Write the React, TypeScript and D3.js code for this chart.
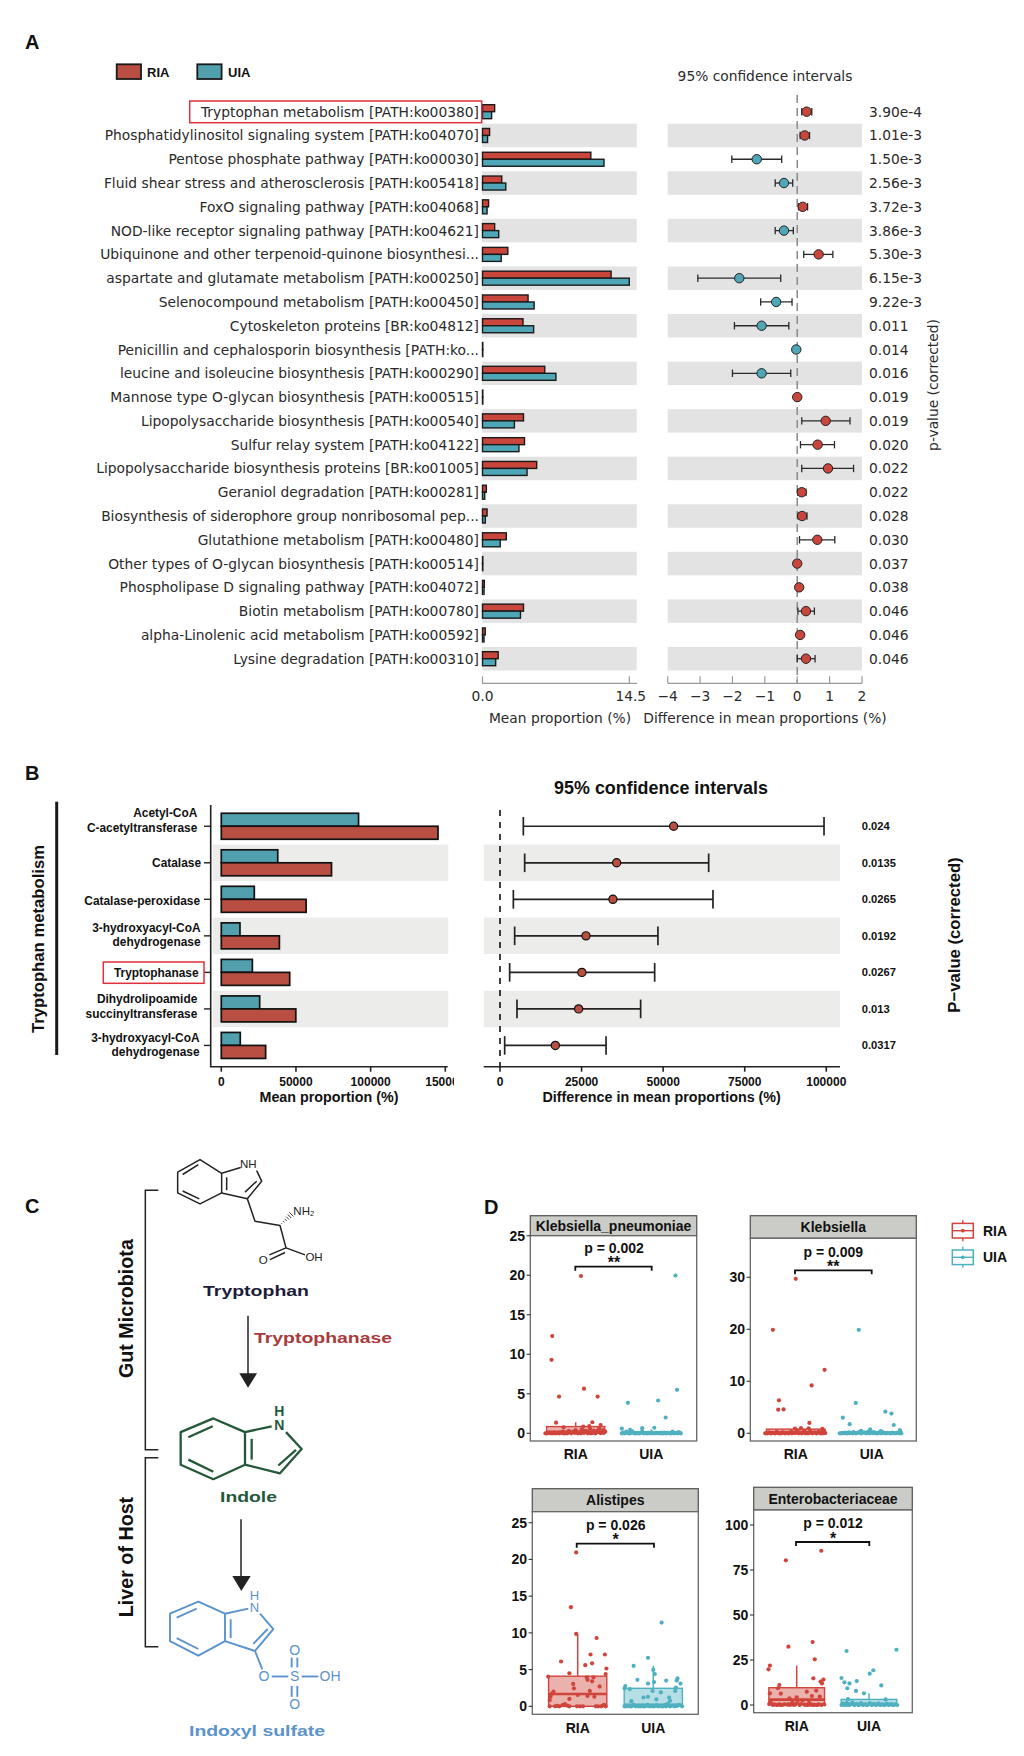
import React from "react";
import * as d3 from "d3";

// Panel A
const pathways = [
  "Tryptophan metabolism [PATH:ko00380]",
  "Phosphatidylinositol signaling system [PATH:ko04070]",
  "Pentose phosphate pathway [PATH:ko00030]",
  "Fluid shear stress and atherosclerosis [PATH:ko05418]",
  "FoxO signaling pathway [PATH:ko04068]",
  "NOD-like receptor signaling pathway [PATH:ko04621]",
  "Ubiquinone and other terpenoid-quinone biosynthesi...",
  "aspartate and glutamate metabolism [PATH:ko00250]",
  "Selenocompound metabolism [PATH:ko00450]",
  "Cytoskeleton proteins [BR:ko04812]",
  "Penicillin and cephalosporin biosynthesis [PATH:ko...",
  "leucine and isoleucine biosynthesis [PATH:ko00290]",
  "Mannose type O-glycan biosynthesis [PATH:ko00515]",
  "Lipopolysaccharide biosynthesis [PATH:ko00540]",
  "Sulfur relay system [PATH:ko04122]",
  "Lipopolysaccharide biosynthesis proteins [BR:ko01005]",
  "Geraniol degradation [PATH:ko00281]",
  "Biosynthesis of siderophore group nonribosomal pep...",
  "Glutathione metabolism [PATH:ko00480]",
  "Other types of O-glycan biosynthesis [PATH:ko00514]",
  "Phospholipase D signaling pathway [PATH:ko04072]",
  "Biotin metabolism [PATH:ko00780]",
  "alpha-Linolenic acid metabolism [PATH:ko00592]",
  "Lysine degradation [PATH:ko00310]",
];
const meanRia = [1.2, 0.7, 10.7, 1.9, 0.6, 1.2, 2.5, 12.7, 4.5, 4.0, 0.03, 6.15, 0.03, 4.05, 4.15, 5.35, 0.38, 0.45, 2.35, 0.03, 0.18, 4.05, 0.27, 1.55];
const meanUia = [0.9, 0.5, 12.0, 2.3, 0.45, 1.6, 1.85, 14.5, 5.1, 5.05, 0.03, 7.25, 0.03, 3.15, 3.6, 4.4, 0.22, 0.28, 1.75, 0.03, 0.15, 3.75, 0.15, 1.3];
const diffMean = [0.29, 0.23, -1.25, -0.41, 0.17, -0.41, 0.66, -1.79, -0.65, -1.1, -0.03, -1.1, 0.0, 0.88, 0.63, 0.95, 0.14, 0.15, 0.62, 0.0, 0.06, 0.27, 0.09, 0.27];
const diffLow = [0.14, 0.09, -2.02, -0.68, 0.04, -0.68, 0.2, -3.07, -1.13, -1.94, -0.06, -2.0, -0.02, 0.14, 0.1, 0.14, 0.02, 0.03, 0.07, -0.02, 0.0, 0.02, 0.03, 0.0];
const diffHigh = [0.45, 0.38, -0.48, -0.14, 0.32, -0.12, 1.1, -0.51, -0.16, -0.26, 0.0, -0.2, 0.02, 1.63, 1.15, 1.74, 0.27, 0.3, 1.16, 0.02, 0.1, 0.53, 0.14, 0.55];
const pathwayP = ["3.90e-4", "1.01e-3", "1.50e-3", "2.56e-3", "3.72e-3", "3.86e-3", "5.30e-3", "6.15e-3", "9.22e-3", "0.011", "0.014", "0.016", "0.019", "0.019", "0.020", "0.022", "0.022", "0.028", "0.030", "0.037", "0.038", "0.046", "0.046", "0.046"];
const diffTicksA = [-4, -3, -2, -1, 0, 1, 2];

// Panel B
const enzymes = [
  ["Acetyl-CoA", "C-acetyltransferase"],
  ["Catalase"],
  ["Catalase-peroxidase"],
  ["3-hydroxyacyl-CoA", "dehydrogenase"],
  ["Tryptophanase"],
  ["Dihydrolipoamide", "succinyltransferase"],
  ["3-hydroxyacyl-CoA", "dehydrogenase"],
];
const enzymeUia = [91900, 37800, 22100, 12500, 20800, 25700, 12700];
const enzymeRia = [145100, 73800, 56800, 38900, 45800, 49900, 29700];
const enzymeDiff = [53200, 35750, 34600, 26350, 25100, 24100, 16960];
const enzymeLow = [7150, 7560, 4090, 4490, 2960, 5200, 1430];
const enzymeHigh = [99300, 63950, 65270, 48400, 47400, 43100, 32500];
const enzymeP = ["0.024", "0.0135", "0.0265", "0.0192", "0.0267", "0.013", "0.0317"];
const meanTicksB = [0, 50000, 100000, 150000];
const diffTicksB = [0, 25000, 50000, 75000, 100000];

// Panel D: [position on the group axis (RIA = 0, UIA = 1), abundance]
type Pt = [number, number];
const kpRia: Pt[] = [
  [0.07, 19.9], [-0.31, 12.3], [-0.32, 9.3], [0.11, 5.65], [-0.22, 4.65], [0.29, 4.65], [-0.26, 1.35], [0.22, 1.4], [0.33, 1.05], [0.1, 0.85], [0.18, 0.9], [-0.16, 0.75],
  [-0.4, 0], [-0.38, 0], [-0.35, 0.05], [-0.33, 0], [-0.3, 0], [-0.28, 0.1], [-0.25, 0.02], [-0.22, 0], [-0.19, 0.05], [-0.17, 0.2], [-0.14, 0], [-0.12, 0.1], [-0.09, 0.3], [-0.06, 0], [-0.03, 0.2], [0, 0.4], [0.03, 0], [0.05, 0.1], [0.08, 0.5], [0.11, 0.05], [0.13, 0.3], [0.16, 0], [0.19, 0.55], [0.21, 0.1], [0.24, 0.35], [0.26, 0], [0.29, 0.3], [0.31, 0.6], [0.34, 0.15], [0.36, 0.4], [0.38, 0.25], [0.39, 0.2],
  [-0.37, 0.03], [-0.32, 0.06], [-0.27, 0], [-0.21, 0.08], [-0.16, 0], [-0.11, 0], [-0.07, 0.12], [-0.01, 0.05], [0.02, 0.15], [0.07, 0], [0.1, 0.2], [0.15, 0.25], [0.2, 0], [0.23, 0.05], [0.28, 0.1], [0.33, 0.02], [0.37, 0.05],
];
const kpUia: Pt[] = [
  [1.32, 19.95], [1.34, 5.5], [0.69, 3.85], [1.09, 4.15], [1.19, 2.0], [0.61, 0.6], [0.88, 0.65], [1.04, 0.7], [0.72, 0.45],
  [0.61, 0], [0.63, 0.1], [0.65, 0], [0.67, 0.2], [0.7, 0], [0.73, 0.05], [0.75, 0.25], [0.78, 0], [0.81, 0.05], [0.83, 0], [0.86, 0.1], [0.88, 0.25], [0.9, 0], [0.93, 0], [0.96, 0.05], [0.98, 0], [1.01, 0.1], [1.03, 0], [1.06, 0], [1.08, 0.05], [1.11, 0], [1.14, 0], [1.17, 0.1], [1.2, 0], [1.22, 0.05], [1.25, 0], [1.28, 0.2], [1.31, 0], [1.33, 0.05], [1.36, 0.15], [1.39, 0],
  [0.62, 0.02], [0.66, 0.05], [0.69, 0.1], [0.72, 0], [0.77, 0.03], [0.8, 0], [0.85, 0], [0.92, 0.05], [0.95, 0], [1.0, 0.02], [1.05, 0.05], [1.1, 0.03], [1.13, 0.08], [1.16, 0], [1.19, 0.02], [1.24, 0.03], [1.27, 0], [1.3, 0.05], [1.35, 0], [1.38, 0.05],
];
const kRia: Pt[] = [
  [0, 29.7], [-0.3, 19.9], [0.38, 12.2], [0.21, 9.2], [-0.22, 6.35], [-0.23, 4.55], [-0.16, 4.6], [0.18, 2.0], [-0.01, 0.9], [0.07, 1.0], [0.17, 0.95], [0.35, 0.85],
  [-0.4, 0], [-0.38, 0.05], [-0.35, 0.2], [-0.33, 0], [-0.3, 0.1], [-0.27, 0], [-0.25, 0.3], [-0.22, 0], [-0.2, 0.05], [-0.17, 0.2], [-0.14, 0], [-0.11, 0.1], [-0.09, 0], [-0.06, 0.35], [-0.03, 0.1], [0.02, 0.5], [0.05, 0.2], [0.08, 0], [0.11, 0.45], [0.14, 0.15], [0.16, 0], [0.19, 0.4], [0.22, 0], [0.25, 0.2], [0.27, 0], [0.3, 0.35], [0.33, 0], [0.35, 0.3], [0.37, 0.5], [0.39, 0.05],
  [-0.37, 0], [-0.32, 0.05], [-0.28, 0.02], [-0.24, 0.1], [-0.19, 0], [-0.15, 0.05], [-0.1, 0.02], [-0.05, 0], [0, 0.05], [0.04, 0], [0.09, 0.1], [0.13, 0], [0.18, 0.05], [0.23, 0.1], [0.28, 0.03], [0.32, 0.1], [0.36, 0],
];
const kUia: Pt[] = [
  [0.83, 19.9], [0.79, 5.85], [0.62, 3.0], [0.71, 1.75], [1.18, 4.15], [1.26, 3.8], [1.29, 1.6], [1.37, 0.6], [0.98, 0.75], [0.86, 0.45], [1.12, 0.4],
  [0.58, 0], [0.6, 0], [0.63, 0.05], [0.65, 0.15], [0.68, 0], [0.7, 0.2], [0.73, 0.05], [0.76, 0.25], [0.79, 0], [0.82, 0.1], [0.84, 0.3], [0.87, 0.05], [0.9, 0.2], [0.93, 0], [0.95, 0.3], [1.0, 0.1], [1.03, 0.25], [1.06, 0], [1.09, 0.15], [1.12, 0], [1.15, 0.2], [1.18, 0], [1.21, 0.1], [1.24, 0], [1.27, 0.15], [1.3, 0], [1.33, 0.1], [1.36, 0], [1.38, 0.3], [1.39, 0],
  [0.61, 0.03], [0.66, 0], [0.71, 0.02], [0.75, 0], [0.8, 0.05], [0.86, 0], [0.92, 0.05], [0.97, 0], [1.02, 0.03], [1.08, 0], [1.14, 0.05], [1.2, 0.02], [1.26, 0], [1.32, 0.02], [1.37, 0.05],
];
const alRia: Pt[] = [
  [-0.02, 20.95], [-0.09, 13.5], [-0.02, 9.85], [0.25, 9.3], [0.36, 7.05], [0.17, 7.05], [-0.22, 6.1], [0.19, 5.85], [0.1, 5.6], [0.38, 5.15], [-0.11, 4.5], [0.37, 4.4], [-0.39, 4.05], [0.12, 3.95], [0.21, 3.95], [0.13, 3.6], [0.19, 3.4], [-0.06, 3.05], [0.29, 2.7], [-0.05, 2.45], [-0.32, 2.0], [0.16, 2.1], [-0.34, 1.7], [0, 1.55], [0.13, 1.4], [0.22, 1.3], [-0.37, 0.85], [-0.11, 1.0], [-0.36, 1.3],
  [-0.37, 0], [-0.3, 0], [-0.27, 0.05], [-0.24, 0], [-0.2, 0.15], [-0.17, 0.3], [-0.14, 0.1], [-0.11, 0], [-0.01, 0], [0.03, 0], [0.07, 0], [0.24, 0], [0.27, 0], [0.31, 0], [0.33, 0.1], [0.35, 0.2], [0.37, 0],
];
const alUia: Pt[] = [
  [1.11, 11.4], [0.93, 6.6], [0.74, 5.5], [1.0, 4.95], [1.02, 4.4], [1.32, 3.8], [0.79, 3.6], [1.17, 3.5], [1.31, 3.5], [1.36, 3.1], [1.01, 3.3], [0.93, 3.1], [0.63, 2.75], [0.62, 2.45], [0.69, 2.35], [1.3, 2.55], [0.99, 2.1], [1.1, 1.9], [1.29, 2.1], [0.87, 1.2], [0.93, 1.3], [1.04, 0.95], [1.21, 1.2], [0.71, 0.7], [1.22, 0.75],
  [0.62, 0], [0.65, 0], [0.68, 0.1], [0.71, 0], [0.74, 0.2], [0.77, 0], [0.8, 0.05], [0.83, 0], [0.86, 0.1], [0.89, 0], [0.92, 0.2], [0.95, 0], [0.98, 0.1], [1.01, 0], [1.04, 0.15], [1.07, 0], [1.1, 0.05], [1.13, 0], [1.16, 0.2], [1.19, 0.35], [1.22, 0], [1.25, 0.1], [1.28, 0], [1.31, 0.05], [1.34, 0.2], [1.38, 0],
  [0.63, 0.1], [0.69, 0], [0.75, 0.1], [0.81, 0], [0.87, 0], [0.93, 0.05], [0.99, 0], [1.05, 0.05], [1.11, 0], [1.17, 0], [1.23, 0.05], [1.29, 0.1],
];
const enRia: Pt[] = [
  [0.34, 85.7], [-0.15, 80.4], [0.22, 35], [-0.115, 32.4], [0.25, 25.4], [-0.37, 21.9], [-0.39, 19.8], [0.37, 14.1], [0.23, 14.8], [0.33, 13], [0.35, 12], [-0.24, 11.1], [-0.26, 9.3], [-0.22, 6.3], [-0.37, 6.5], [0.14, 7.4], [0.27, 8], [0.32, 4.6], [-0.1, 3.7], [0, 4.3], [0.21, 5],
  [-0.38, 0.5], [-0.36, 1.5], [-0.33, 0], [-0.28, 0], [-0.24, 0.3], [-0.2, 0], [-0.17, 0.4], [-0.13, 0.2], [-0.09, 0], [-0.06, 1.5], [-0.02, 0.3], [0.01, 1.8], [0.04, 0], [0.08, 2.5], [0.11, 0.2], [0.15, 0], [0.17, 1.2], [0.2, 0.3], [0.24, 0.1], [0.27, 0], [0.3, 0.4], [0.34, 0], [0.38, 0.3],
  [-0.31, 0.4], [-0.26, 0.1], [-0.22, 0], [-0.11, 0.3], [-0.04, 0], [0.06, 0.5], [0.13, 0], [0.18, 0.2], [0.22, 0], [0.29, 0],
];
const enUia: Pt[] = [
  [0.69, 30], [1.38, 30.7], [1.06, 19.3], [1.01, 17.4], [0.62, 15], [0.66, 12.6], [0.83, 13.3], [0.73, 12], [0.7, 9.3], [1.17, 10.9], [0.82, 7.8], [0.93, 6.5], [0.71, 3.3], [1.23, 3.1],
  [0.62, 0], [0.64, 0.8], [0.66, 0], [0.69, 1.2], [0.71, 0], [0.74, 0.5], [0.77, 1.5], [0.8, 0], [0.83, 0.7], [0.86, 0], [0.89, 1.1], [0.92, 0], [0.95, 0.4], [0.98, 0], [1.01, 1.0], [1.04, 0], [1.07, 0.6], [1.1, 0], [1.13, 0.9], [1.16, 0], [1.19, 0.3], [1.22, 0], [1.25, 0.8], [1.28, 0], [1.31, 0.5], [1.34, 0], [1.37, 0.3], [1.39, 0],
  [0.63, 0.3], [0.68, 0.1], [0.73, 0], [0.79, 0.2], [0.85, 0], [0.91, 0.2], [0.97, 0], [1.03, 0.3], [1.09, 0], [1.15, 0.2], [1.21, 0], [1.27, 0.1], [1.33, 0],
];
const facetNames = ["Klebsiella_pneumoniae", "Klebsiella", "Alistipes", "Enterobacteriaceae"];
const facetPvalues = ["p = 0.002", "p = 0.009", "p = 0.026", "p = 0.012"];
const facetStars = ["**", "**", "*", "*"];
const facetTicks = [[0, 5, 10, 15, 20, 25], [0, 10, 20, 30], [0, 5, 10, 15, 20, 25], [0, 25, 50, 75, 100]];
const facetRia = [kpRia, kRia, alRia, enRia];
const facetUia = [kpUia, kUia, alUia, enUia];
// q1, median, q3, upper whisker
const boxRia = [[0, 0.2, 0.85, 1.4], [0, 0.15, 0.8, 1.0], [0, 1.68, 4.1, 9.85], [0.5, 3, 9.6, 21.9]];
const boxUia = [[0, 0.03, 0.2, 0.5], [0, 0.05, 0.25, 0.6], [0, 0.2, 2.45, 5.5], [0, 0.5, 3.1, 6.5]];

const RED = "#c9463c";
const TEAL = "#4fa6b7";
const RED_B = "#b94f43";
const TEAL_B = "#52a0ae";
const DOT_RED = "#d0443c";
const DOT_TEAL = "#4fb0c0";
const BOX_RED = "#e0303c";
const SANS = "'Liberation Sans', Arial, sans-serif";
const DEJA = "'DejaVu Sans', sans-serif";

const facetLayout = [
  { left: 530.3, right: 696.7, strip: 1215.7, top: 1235.7, bottom: 1441, y0: 1433.3, yMax: 1235.7, ria: 575.7, uia: 651.3, label: 1454.3, brY: 1266.7, brA: 575.3, brB: 651.7, pX: 614, pY: 1248, starY: 1262.5 },
  { left: 750.3, right: 916.3, strip: 1215.7, top: 1238.3, bottom: 1441, y0: 1433.3, yMax: 1277.3, ria: 795.7, uia: 871.7, label: 1454.3, brY: 1270.3, brA: 795, brB: 871.7, pX: 833.3, pY: 1251.7, starY: 1266 },
  { left: 532.3, right: 698.3, strip: 1488.7, top: 1511.7, bottom: 1714.3, y0: 1706.3, yMax: 1522.7, ria: 577.7, uia: 653.3, label: 1727.7, brY: 1543.7, brA: 576.7, brB: 654, pX: 615.7, pY: 1525, starY: 1539.5 },
  { left: 753.7, right: 912.3, strip: 1487.3, top: 1510, bottom: 1712.7, y0: 1705, yMax: 1525, ria: 796.7, uia: 869, label: 1726.3, brY: 1542, brA: 796, brB: 869.3, pX: 833, pY: 1523.3, starY: 1538 },
];

function Facet({ i }: { i: number }) {
  const l = facetLayout[i];
  const ticks = facetTicks[i];
  const y = d3.scaleLinear().domain([0, ticks[ticks.length - 1]]).range([l.y0, l.yMax]);
  const x = d3.scaleLinear().domain([0, 1]).range([l.ria, l.uia]);
  const groups = [
    { pts: facetRia[i], box: boxRia[i], color: DOT_RED, at: 0, name: "RIA" },
    { pts: facetUia[i], box: boxUia[i], color: DOT_TEAL, at: 1, name: "UIA" },
  ];
  const boxHalf = (l.uia - l.ria) * 0.385;
  return (
    <g>
      <rect x={l.left} y={l.strip} width={l.right - l.left} height={l.top - l.strip} fill="#cbccc7" stroke="#5a5a5a" strokeWidth={1.3} />
      <text x={(l.left + l.right) / 2} y={(l.strip + l.top) / 2} textAnchor="middle" dominantBaseline="central" fontFamily={SANS} fontWeight="bold" fontSize={14} fill="#111">{facetNames[i]}</text>
      <rect x={l.left} y={l.top} width={l.right - l.left} height={l.bottom - l.top} fill="#fff" stroke="#666" strokeWidth={1.3} />
      {ticks.map((t) => (
        <g key={t}>
          <line x1={l.left - 3.7} x2={l.left} y1={y(t)} y2={y(t)} stroke="#333" strokeWidth={1.1} />
          <text x={l.left - 5.3} y={y(t)} textAnchor="end" dominantBaseline="central" fontFamily={SANS} fontWeight="bold" fontSize={14} fill="#111">{t}</text>
        </g>
      ))}
      {groups.map((g) => (
        <g key={g.name}>
          <line x1={x(g.at)} x2={x(g.at)} y1={y(g.box[2])} y2={y(g.box[3])} stroke={g.color} strokeWidth={1.5} />
          <rect x={x(g.at) - boxHalf} width={boxHalf * 2} y={y(g.box[2])} height={Math.max(y(g.box[0]) - y(g.box[2]), 0.5)} fill={g.color} fillOpacity={0.42} stroke={g.color} strokeWidth={1.4} />
          <line x1={x(g.at) - boxHalf} x2={x(g.at) + boxHalf} y1={y(g.box[1])} y2={y(g.box[1])} stroke={g.color} strokeWidth={2.6} />
          {g.pts.map((p, k) => (
            <circle key={k} cx={x(p[0])} cy={y(p[1])} r={2.1} fill={g.color} />
          ))}
          <text x={x(g.at)} y={l.label} textAnchor="middle" dominantBaseline="central" fontFamily={SANS} fontWeight="bold" fontSize={14} fill="#111">{g.name}</text>
        </g>
      ))}
      <path d={`M${l.brA},${l.brY + 4}V${l.brY}H${l.brB}V${l.brY + 4}`} fill="none" stroke="#111" strokeWidth={1.8} />
      <text x={l.pX} y={l.pY} textAnchor="middle" dominantBaseline="central" fontFamily={SANS} fontWeight="bold" fontSize={14} fill="#111">{facetPvalues[i]}</text>
      <text x={l.pX} y={l.starY} textAnchor="middle" dominantBaseline="central" fontFamily={SANS} fontWeight="bold" fontSize={16} fill="#111">{facetStars[i]}</text>
    </g>
  );
}

// zoomed structure drawing coordinates -> page
const cx = (v: number) => v / 3;
const cy = (v: number) => 1140 + v / 2.55;
const bond = d3.line<number[]>().x((d) => cx(d[0])).y((d) => cy(d[1]));

function Bonds({ lines, color, width }: { lines: number[][][]; color: string; width: number }) {
  return (
    <g fill="none" stroke={color} strokeWidth={width} strokeLinejoin="round">
      {lines.map((p, i) => (
        <path key={i} d={bond(p) || ""} />
      ))}
    </g>
  );
}

function Atom({ x, y, t, color, size, bold }: { x: number; y: number; t: string; color: string; size: number; bold?: boolean }) {
  return (
    <text x={cx(x)} y={cy(y)} textAnchor="middle" dominantBaseline="central" fontFamily={SANS} fontSize={size} fontWeight={bold ? "bold" : "normal"} fill={color}>{t}</text>
  );
}

const tryptophanBonds = [
  [[665, 85], [600, 50], [533, 82], [533, 135], [600, 163], [665, 135], [665, 85], [722, 70]],
  [[770, 78], [785, 105], [742, 150], [665, 135]],
  [[680, 95], [680, 128]], [[595, 63], [548, 88]], [[548, 130], [598, 150]], [[735, 133], [770, 105]],
  [[742, 150], [765, 207], [840, 218], [858, 275], [915, 293]],
  [[858, 275], [808, 293]], [[855, 287], [810, 305]],
];
const indoleBonds = [
  [[735, 745], [640, 710], [542, 745], [542, 828], [640, 865], [735, 828], [735, 745], [815, 730]],
  [[858, 745], [905, 788], [840, 850], [735, 828]],
  [[565, 758], [638, 730]], [[565, 815], [640, 846]], [[755, 762], [755, 815]], [[835, 830], [888, 790]],
];
const indoxylBonds = [
  [[675, 1208], [595, 1177], [510, 1208], [510, 1278], [595, 1315], [675, 1278], [675, 1208], [745, 1195]],
  [[780, 1208], [820, 1247], [765, 1303], [675, 1278]],
  [[530, 1218], [590, 1195]], [[530, 1270], [595, 1298]], [[692, 1222], [692, 1270]], [[760, 1285], [803, 1247]],
  [[765, 1303], [787, 1350]], [[815, 1368], [865, 1368]], [[905, 1368], [955, 1368]],
  [[875, 1345], [875, 1320]], [[892, 1345], [892, 1320]], [[875, 1392], [875, 1420]], [[892, 1392], [892, 1420]],
];
const hatch = d3.range(1, 7);

export default function App() {
  // A
  const rowsA = d3.scaleBand<number>().domain(d3.range(pathways.length)).range([99.8, 670.6]);
  const rowA = (i: number) => (rowsA(i) as number) + rowsA.bandwidth() / 2;
  const meanX = d3.scaleLinear().domain([0, 14.5]).range([482.5, 629.3]);
  const diffX = d3.scaleLinear().domain([-4, 2]).range([667.7, 862]);
  const axisYA = 683.3;

  // B
  const rowsB = d3.scaleBand<number>().domain(d3.range(enzymes.length)).range([808, 1063.7]);
  const rowB = (i: number) => (rowsB(i) as number) + rowsB.bandwidth() / 2;
  const propX = d3.scaleLinear().domain([0, 150000]).range([221.3, 445.3]);
  const gapX = d3.scaleLinear().domain([0, 100000]).range([500, 826.3]);
  const axisYB = 1066.7;
  const enzymeRight = [197.3, 201, 200, 200.5, 198.5, 197.3, 199.5];
  const enzymeFirstLine = [-13, 0, 1.4, -8, 0.4, -9.7, -7.6];

  return (
    <svg width={1024} height={1756} viewBox="0 0 1024 1756" style={{ position: "absolute", left: 0, top: 0, display: "block", background: "#fff" }}>
      <defs>
        <clipPath id="clip-b-ticks">
          <rect x={180} y={1070} width={274} height={24} />
        </clipPath>
      </defs>

      {/* Panel A */}
      <text x={25} y={41.7} dominantBaseline="central" fontFamily={SANS} fontWeight="bold" fontSize={20} fill="#111">A</text>
      <rect x={116.7} y={64.3} width={24.3} height={14.7} fill={RED_B} stroke="#1a1a1a" strokeWidth={1.8} />
      <text x={147} y={72} dominantBaseline="central" fontFamily={SANS} fontWeight="bold" fontSize={13} fill="#111">RIA</text>
      <rect x={197.3} y={64.3} width={24.3} height={14.7} fill={TEAL_B} stroke="#1a1a1a" strokeWidth={1.8} />
      <text x={228} y={72} dominantBaseline="central" fontFamily={SANS} fontWeight="bold" fontSize={13} fill="#111">UIA</text>
      <text x={765} y={76} textAnchor="middle" dominantBaseline="central" fontFamily={DEJA} fontSize={13.8} fill="#2a2a2a">95% confidence intervals</text>

      {pathways.map((name, i) => (
        <g key={i}>
          {i % 2 === 1 && (
            <g fill="#e3e3e3">
              <rect x={482} y={rowA(i) - 11.75} width={154.7} height={23.5} />
              <rect x={667.7} y={rowA(i) - 11.75} width={194.3} height={23.5} />
            </g>
          )}
          <text x={479} y={rowA(i)} textAnchor="end" dominantBaseline="central" fontFamily={DEJA} fontSize={13.84} fill="#2a2a2a">{name}</text>
          <rect x={meanX(0)} y={rowA(i) - 7} width={meanX(meanRia[i]) - meanX(0)} height={7} fill={RED} stroke="#1a1a1a" strokeWidth={1.4} />
          <rect x={meanX(0)} y={rowA(i)} width={meanX(meanUia[i]) - meanX(0)} height={7} fill={TEAL} stroke="#1a1a1a" strokeWidth={1.4} />
          <text x={869} y={rowA(i)} dominantBaseline="central" fontFamily={DEJA} fontSize={13.8} fill="#2a2a2a">{pathwayP[i]}</text>
        </g>
      ))}
      <line x1={diffX(0)} x2={diffX(0)} y1={95} y2={axisYA} stroke="#8a8a8a" strokeWidth={1.5} strokeDasharray="8 5" />
      {pathways.map((_, i) => {
        const up = diffMean[i] >= 0 && i !== 10;
        return (
          <g key={i} stroke="#2a2a2a" strokeWidth={1.3}>
            <line x1={diffX(diffLow[i])} x2={diffX(diffHigh[i])} y1={rowA(i)} y2={rowA(i)} />
            <line x1={diffX(diffLow[i])} x2={diffX(diffLow[i])} y1={rowA(i) - 3.7} y2={rowA(i) + 3.7} />
            <line x1={diffX(diffHigh[i])} x2={diffX(diffHigh[i])} y1={rowA(i) - 3.7} y2={rowA(i) + 3.7} />
            <circle cx={diffX(diffMean[i])} cy={rowA(i)} r={4.7} fill={up ? RED : TEAL} stroke="#222" strokeWidth={1} />
          </g>
        );
      })}
      <g stroke="#999" strokeWidth={1.2}>
        <line x1={482} x2={637} y1={axisYA} y2={axisYA} />
        <line x1={meanX(0)} x2={meanX(0)} y1={axisYA} y2={axisYA - 7} />
        <line x1={meanX(14.5)} x2={meanX(14.5)} y1={axisYA} y2={axisYA - 7} />
        <line x1={667.7} x2={862} y1={axisYA} y2={axisYA} />
        {diffTicksA.map((t) => (
          <line key={t} x1={diffX(t)} x2={diffX(t)} y1={axisYA} y2={axisYA - 7} />
        ))}
      </g>
      <g fontFamily={DEJA} fontSize={13.8} fill="#2a2a2a" textAnchor="middle" dominantBaseline="central">
        <text x={meanX(0)} y={696}>0.0</text>
        <text x={meanX(14.5) + 1.5} y={696}>14.5</text>
        {diffTicksA.map((t) => (
          <text key={t} x={diffX(t)} y={696}>{t < 0 ? `\u2212${-t}` : t}</text>
        ))}
        <text x={560} y={717.7}>Mean proportion (%)</text>
        <text x={765} y={717.7}>Difference in mean proportions (%)</text>
        <text transform="translate(933,385) rotate(-90)">p-value (corrected)</text>
      </g>
      <rect x={189.7} y={101} width={292} height={21.7} fill="none" stroke={BOX_RED} strokeWidth={1.5} />

      {/* Panel B */}
      <text x={25} y={773} dominantBaseline="central" fontFamily={SANS} fontWeight="bold" fontSize={20} fill="#111">B</text>
      <rect x={55.2} y={801.7} width={3} height={253.3} fill="#1a1a1a" />
      <text transform="translate(38.7,939) rotate(-90)" textAnchor="middle" dominantBaseline="central" fontFamily={SANS} fontSize={16.7} fontWeight="bold" fill="#111">Tryptophan metabolism</text>
      <text x={661} y={788} textAnchor="middle" dominantBaseline="central" fontFamily={SANS} fontWeight="bold" fontSize={17.9} fill="#111">95% confidence intervals</text>
      <text transform="translate(954,935) rotate(-90)" textAnchor="middle" dominantBaseline="central" fontFamily={SANS} fontWeight="bold" fontSize={16.7} fill="#111">P{"\u2212"}value (corrected)</text>

      {enzymes.map((lines, i) => (
        <g key={i}>
          {i % 2 === 1 && (
            <g fill="#ecedea">
              <rect x={212.7} y={rowB(i) - 18.2} width={235.6} height={36.4} />
              <rect x={483.7} y={rowB(i) - 18.2} width={356.3} height={36.4} />
            </g>
          )}
          {lines.map((t, k) => (
            <text key={k} x={enzymeRight[i]} y={rowB(i) + enzymeFirstLine[i] + k * 14.6} textAnchor="end" dominantBaseline="central" fontFamily={SANS} fontWeight="bold" fontSize={11.9} fill="#111">{t}</text>
          ))}
          <line x1={204} x2={210.7} y1={rowB(i)} y2={rowB(i)} stroke="#222" strokeWidth={1.4} />
          <rect x={propX(0)} y={rowB(i) - 13} width={propX(enzymeUia[i]) - propX(0)} height={13} fill={TEAL_B} stroke="#111" strokeWidth={1.7} />
          <rect x={propX(0)} y={rowB(i)} width={propX(enzymeRia[i]) - propX(0)} height={13} fill={RED_B} stroke="#111" strokeWidth={1.7} />
          <text x={861.7} y={rowB(i)} dominantBaseline="central" fontFamily={SANS} fontWeight="bold" fontSize={11.2} fill="#111">{enzymeP[i]}</text>
        </g>
      ))}
      <line x1={gapX(0)} x2={gapX(0)} y1={810} y2={axisYB} stroke="#111" strokeWidth={1.6} strokeDasharray="6 6" />
      {enzymes.map((_, i) => (
        <g key={i} stroke="#222" strokeWidth={1.7}>
          <line x1={gapX(enzymeLow[i])} x2={gapX(enzymeHigh[i])} y1={rowB(i)} y2={rowB(i)} />
          <line x1={gapX(enzymeLow[i])} x2={gapX(enzymeLow[i])} y1={rowB(i) - 9.3} y2={rowB(i) + 9.3} />
          <line x1={gapX(enzymeHigh[i])} x2={gapX(enzymeHigh[i])} y1={rowB(i) - 9.3} y2={rowB(i) + 9.3} />
          <circle cx={gapX(enzymeDiff[i])} cy={rowB(i)} r={4.1} fill={RED_B} stroke="#111" strokeWidth={1.2} />
        </g>
      ))}
      <g stroke="#222" strokeWidth={1.6}>
        <line x1={210.7} x2={210.7} y1={805} y2={axisYB} />
        <line x1={210} x2={447.7} y1={axisYB} y2={axisYB} />
        {meanTicksB.map((t) => (
          <line key={t} x1={propX(t)} x2={propX(t)} y1={axisYB} y2={axisYB + 5} />
        ))}
        <line x1={483.7} x2={840} y1={axisYB} y2={axisYB} />
        {diffTicksB.map((t) => (
          <line key={t} x1={gapX(t)} x2={gapX(t)} y1={axisYB} y2={axisYB + 5} />
        ))}
      </g>
      <g fontFamily={SANS} fontWeight="bold" fontSize={12} fill="#111" textAnchor="middle" dominantBaseline="central">
        <g clipPath="url(#clip-b-ticks)">
          {meanTicksB.map((t) => (
            <text key={t} x={propX(t)} y={1081.7}>{t}</text>
          ))}
        </g>
        {diffTicksB.map((t) => (
          <text key={t} x={gapX(t)} y={1081.7}>{t}</text>
        ))}
        <text x={329} y={1097} fontSize={14.3}>Mean proportion (%)</text>
        <text x={661.7} y={1097} fontSize={14.3}>Difference in mean proportions (%)</text>
      </g>
      <rect x={103.3} y={962} width={100.7} height={21.3} fill="none" stroke={BOX_RED} strokeWidth={1.5} />

      {/* Panel C */}
      <text x={25} y={1206} dominantBaseline="central" fontFamily={SANS} fontWeight="bold" fontSize={20} fill="#111">C</text>
      <path d={`M${cx(475)},${cy(128)}H${cx(436)}V${cy(790)}H${cx(475)}`} fill="none" stroke="#222" strokeWidth={1.5} />
      <path d={`M${cx(475)},${cy(810)}H${cx(436)}V${cy(1292)}H${cx(475)}`} fill="none" stroke="#222" strokeWidth={1.5} />
      <text transform="translate(126,1308.6) rotate(-90)" textAnchor="middle" dominantBaseline="central" fontFamily={SANS} fontWeight="bold" fontSize={19.7} fill="#111">Gut Microbiota</text>
      <text transform="translate(126,1557) rotate(-90)" textAnchor="middle" dominantBaseline="central" fontFamily={SANS} fontWeight="bold" fontSize={19.7} fill="#111">Liver of Host</text>

      <Bonds lines={tryptophanBonds} color="#222" width={1.5} />
      {hatch.map((k) => {
        const bx = 840 + (40 * k) / 7;
        const by = 218 - (33 * k) / 7;
        return <line key={k} x1={cx(bx) - k * 0.35} y1={cy(by) - k * 0.35} x2={cx(bx) + k * 0.35} y2={cy(by) + k * 0.35} stroke="#222" strokeWidth={0.9} />;
      })}
      <Atom x={745} y={62} t="NH" color="#222" size={11.5} />
      <text x={cx(880)} y={cy(180)} dominantBaseline="central" fontFamily={SANS} fontSize={11.5} fill="#222">NH<tspan fontSize={7.5} dy={2}>2</tspan></text>
      <Atom x={790} y={305} t="O" color="#222" size={11.5} />
      <Atom x={942} y={298} t="OH" color="#222" size={11.5} />
      <text x={256} y={cy(384)} textAnchor="middle" dominantBaseline="central" fontFamily={SANS} fontWeight="bold" fontSize={15.5} textLength={106} lengthAdjust="spacingAndGlyphs" fill="#1d1d3a">Tryptophan</text>

      <line x1={248} x2={248} y1={cy(448)} y2={cy(600)} stroke="#222" strokeWidth={1.5} />
      <path d={`M${cx(718)},${cy(595)}L${cx(771)},${cy(595)}L${cx(744)},${cy(632)}Z`} fill="#222" />
      <text x={254} y={cy(503)} dominantBaseline="central" fontFamily={SANS} fontWeight="bold" fontSize={15.5} textLength={138} lengthAdjust="spacingAndGlyphs" fill="#a83a3a">Tryptophanase</text>

      <Bonds lines={indoleBonds} color="#25583a" width={2.3} />
      <Atom x={838} y={692} t="H" color="#25583a" size={14} bold />
      <Atom x={838} y={727} t="N" color="#25583a" size={14} bold />
      <text x={248.5} y={cy(909)} textAnchor="middle" dominantBaseline="central" fontFamily={SANS} fontWeight="bold" fontSize={15.5} textLength={57} lengthAdjust="spacingAndGlyphs" fill="#25583a">Indole</text>

      <line x1={241} x2={241} y1={cy(967)} y2={cy(1115)} stroke="#222" strokeWidth={1.5} />
      <path d={`M${cx(697)},${cy(1112)}L${cx(752)},${cy(1112)}L${cx(724)},${cy(1150)}Z`} fill="#222" />

      <Bonds lines={indoxylBonds} color="#5b93cc" width={1.9} />
      <Atom x={763} y={1162} t="H" color="#5b93cc" size={13} />
      <Atom x={763} y={1192} t="N" color="#5b93cc" size={13} />
      <Atom x={792} y={1368} t="O" color="#5b93cc" size={14} />
      <Atom x={884} y={1368} t="S" color="#5b93cc" size={14} />
      <Atom x={990} y={1368} t="OH" color="#5b93cc" size={14} />
      <Atom x={884} y={1300} t="O" color="#5b93cc" size={14} />
      <Atom x={884} y={1438} t="O" color="#5b93cc" size={14} />
      <text x={257} y={cy(1505)} textAnchor="middle" dominantBaseline="central" fontFamily={SANS} fontWeight="bold" fontSize={15.5} textLength={136} lengthAdjust="spacingAndGlyphs" fill="#5b93cc">Indoxyl sulfate</text>

      {/* Panel D */}
      <text x={484} y={1206.7} dominantBaseline="central" fontFamily={SANS} fontWeight="bold" fontSize={20} fill="#111">D</text>
      {facetNames.map((_, i) => (
        <Facet key={i} i={i} />
      ))}
      {[
        { name: "RIA", color: DOT_RED, c: 1230.7 },
        { name: "UIA", color: DOT_TEAL, c: 1257.3 },
      ].map((k) => (
        <g key={k.name}>
          <line x1={962.8} x2={962.8} y1={k.c - 10.5} y2={k.c + 10.5} stroke={k.color} strokeWidth={1.4} />
          <rect x={952.3} y={k.c - 7.3} width={21} height={14.6} fill="#fff" stroke={k.color} strokeWidth={1.5} />
          <line x1={952.3} x2={973.3} y1={k.c} y2={k.c} stroke={k.color} strokeWidth={1.4} />
          <circle cx={962.8} cy={k.c} r={1.9} fill={k.color} />
          <text x={983} y={k.c} dominantBaseline="central" fontFamily={SANS} fontWeight="bold" fontSize={14} fill="#111">{k.name}</text>
        </g>
      ))}
    </svg>
  );
}
